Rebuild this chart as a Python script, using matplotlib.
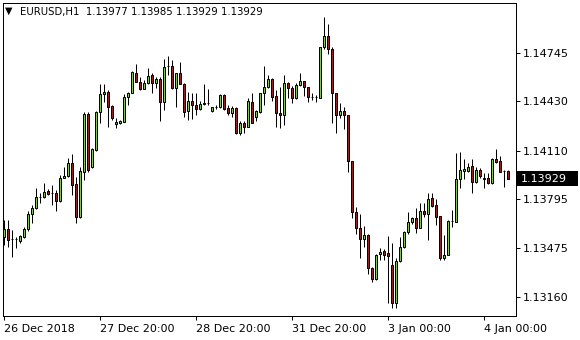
import matplotlib
matplotlib.use("Agg")
import matplotlib.pyplot as plt
import matplotlib.transforms as mtransforms
from matplotlib.patches import Rectangle
import numpy as np

symbol = "EURUSD,H1"
last_ohlc = [1.13977, 1.13985, 1.13929, 1.13929]

opens = [1.13549, 1.13601, 1.13536, 1.13536, 1.13523, 1.13549, 1.13601, 1.13698, 1.13737, 1.13809,
         1.13809, 1.13848, 1.13835, 1.13835, 1.13783, 1.13932, 1.13945, 1.14030, 1.13893, 1.13679,
         1.13971, 1.14348, 1.14004, 1.14114, 1.14361, 1.14478, 1.14491, 1.14400, 1.14283, 1.14290,
         1.14296, 1.14459, 1.14485, 1.14615, 1.14556, 1.14511, 1.14550, 1.14602, 1.14550, 1.14576,
         1.14426, 1.14660, 1.14660, 1.14517, 1.14615, 1.14543, 1.14368, 1.14433, 1.14407, 1.14381,
         1.14413, 1.14420, 1.14368, 1.14394, 1.14394, 1.14472, 1.14387, 1.14355, 1.14387, 1.14225,
         1.14290, 1.14264, 1.14426, 1.14329, 1.14361, 1.14485, 1.14524, 1.14576, 1.14465, 1.14355,
         1.14342, 1.14550, 1.14517, 1.14452, 1.14537, 1.14563, 1.14524, 1.14459, 1.14459, 1.14452,
         1.14784, 1.14855, 1.14771, 1.14485, 1.14342, 1.14368, 1.14342, 1.14043, 1.13711, 1.13607,
         1.13536, 1.13562, 1.13347, 1.13276, 1.13438, 1.13458, 1.13445, 1.13367, 1.13120, 1.13393,
         1.13484, 1.13581, 1.13646, 1.13672, 1.13607, 1.13718, 1.13698, 1.13802, 1.13757, 1.13685,
         1.13412, 1.13432, 1.13653, 1.13646, 1.13926, 1.13978, 1.13978, 1.14010, 1.13906, 1.13984,
         1.13926, 1.13932, 1.13900, 1.14056, 1.14043, 1.13978, 1.13977]

highs = [1.13659, 1.13659, 1.13594, 1.13549, 1.13562, 1.13614, 1.13718, 1.13757, 1.13867, 1.13835,
         1.13900, 1.13861, 1.13887, 1.13854, 1.13952, 1.14004, 1.14062, 1.14088, 1.13939, 1.14004,
         1.14361, 1.14361, 1.14127, 1.14368, 1.14543, 1.14543, 1.14504, 1.14407, 1.14322, 1.14309,
         1.14478, 1.14491, 1.14628, 1.14673, 1.14589, 1.14569, 1.14647, 1.14615, 1.14589, 1.14589,
         1.14706, 1.14725, 1.14699, 1.14615, 1.14686, 1.14550, 1.14491, 1.14485, 1.14485, 1.14433,
         1.14543, 1.14511, 1.14394, 1.14407, 1.14478, 1.14478, 1.14407, 1.14400, 1.14394, 1.14303,
         1.14303, 1.14452, 1.14485, 1.14374, 1.14485, 1.14660, 1.14602, 1.14582, 1.14504, 1.14524,
         1.14602, 1.14556, 1.14530, 1.14550, 1.14615, 1.14563, 1.14524, 1.14485, 1.14472, 1.14784,
         1.14979, 1.14933, 1.14784, 1.14485, 1.14420, 1.14394, 1.14342, 1.14043, 1.13744, 1.13698,
         1.13620, 1.13568, 1.13354, 1.13438, 1.13477, 1.13471, 1.13555, 1.13510, 1.13412, 1.13549,
         1.13588, 1.13711, 1.13679, 1.13737, 1.13770, 1.13770, 1.13835, 1.13835, 1.13796, 1.13685,
         1.13562, 1.13659, 1.13724, 1.14095, 1.14101, 1.14056, 1.14030, 1.14056, 1.14004, 1.13997,
         1.13965, 1.13965, 1.14062, 1.14121, 1.14075, 1.13984, 1.13985]

lows = [1.13497, 1.13484, 1.13419, 1.13477, 1.13510, 1.13542, 1.13588, 1.13640, 1.13731, 1.13770,
        1.13802, 1.13822, 1.13757, 1.13718, 1.13776, 1.13932, 1.13939, 1.13822, 1.13640, 1.13672,
        1.13919, 1.13971, 1.13997, 1.14108, 1.14290, 1.14426, 1.14264, 1.14309, 1.14257, 1.14283,
        1.14296, 1.14407, 1.14485, 1.14556, 1.14504, 1.14511, 1.14543, 1.14485, 1.14517, 1.14303,
        1.14374, 1.14602, 1.14511, 1.14394, 1.14543, 1.14329, 1.14309, 1.14316, 1.14342, 1.14374,
        1.14407, 1.14407, 1.14361, 1.14381, 1.14387, 1.14374, 1.14342, 1.14329, 1.14218, 1.14212,
        1.14225, 1.14264, 1.14290, 1.14303, 1.14355, 1.14407, 1.14517, 1.14433, 1.14264, 1.14257,
        1.14277, 1.14452, 1.14420, 1.14446, 1.14530, 1.14465, 1.14426, 1.14439, 1.14426, 1.14452,
        1.14771, 1.14738, 1.14290, 1.14225, 1.14322, 1.14251, 1.13971, 1.13672, 1.13568, 1.13412,
        1.13484, 1.13308, 1.13256, 1.13269, 1.13399, 1.13399, 1.13120, 1.13087, 1.13087, 1.13386,
        1.13477, 1.13568, 1.13633, 1.13575, 1.13607, 1.13679, 1.13529, 1.13744, 1.13627, 1.13399,
        1.13399, 1.13432, 1.13614, 1.13646, 1.13867, 1.13926, 1.13971, 1.13835, 1.13900, 1.13932,
        1.13867, 1.13893, 1.13893, 1.14030, 1.13971, 1.13874, 1.13929]

closes = [1.13601, 1.13529, 1.13536, 1.13536, 1.13555, 1.13601, 1.13698, 1.13737, 1.13809, 1.13809,
          1.13841, 1.13828, 1.13835, 1.13783, 1.13932, 1.13945, 1.14030, 1.13887, 1.13679, 1.13978,
          1.14348, 1.13984, 1.14121, 1.14361, 1.14478, 1.14491, 1.14394, 1.14322, 1.14296, 1.14303,
          1.14459, 1.14485, 1.14621, 1.14556, 1.14511, 1.14550, 1.14595, 1.14550, 1.14576, 1.14426,
          1.14654, 1.14660, 1.14517, 1.14615, 1.14543, 1.14361, 1.14433, 1.14407, 1.14381, 1.14413,
          1.14420, 1.14420, 1.14394, 1.14394, 1.14472, 1.14381, 1.14355, 1.14387, 1.14225, 1.14290,
          1.14264, 1.14433, 1.14290, 1.14368, 1.14485, 1.14524, 1.14576, 1.14459, 1.14355, 1.14342,
          1.14550, 1.14517, 1.14452, 1.14537, 1.14563, 1.14524, 1.14459, 1.14459, 1.14459, 1.14784,
          1.14855, 1.14771, 1.14485, 1.14342, 1.14368, 1.14342, 1.14043, 1.13711, 1.13607, 1.13536,
          1.13562, 1.13347, 1.13276, 1.13432, 1.13451, 1.13432, 1.13425, 1.13120, 1.13393, 1.13484,
          1.13581, 1.13646, 1.13672, 1.13607, 1.13718, 1.13698, 1.13796, 1.13750, 1.13679, 1.13412,
          1.13432, 1.13653, 1.13653, 1.13926, 1.13984, 1.13991, 1.14004, 1.13906, 1.13984, 1.13945,
          1.13932, 1.13900, 1.14056, 1.14036, 1.13971, 1.13978, 1.13929]

price_ticks = [1.13160, 1.13475, 1.13795, 1.14110, 1.14430, 1.14745]
time_tick_bars = [0, 24, 48, 72, 96, 120]
time_tick_labels = ["26 Dec 2018", "27 Dec 20:00", "28 Dec 20:00", "31 Dec 20:00", "3 Jan 00:00", "4 Jan 00:00"]

BULL = "#66E600"
BEAR = "#E00000"

W, H = 580, 340
fig = plt.figure(figsize=(W / 100, H / 100), dpi=100)
fig.patch.set_facecolor("white")
ax = fig.add_axes([3 / W, 1 - 316 / H, (516 - 3) / W, (316 - 3) / H])

o = np.array(opens); h = np.array(highs); l = np.array(lows); c = np.array(closes)
x = np.arange(len(o))
px = 0.72  # one pixel in points

ax.vlines(x, l, h, color="black", linewidth=px, zorder=2)
bottoms = np.minimum(o, c)
heights = np.abs(c - o)
colors = np.where(c > o, BULL, np.where(c < o, BEAR, "black"))
ax.bar(x, heights, bottom=bottoms, width=0.5, color=colors, edgecolor="black",
       linewidth=px, zorder=3)

ax.set_xlim(-0.25, 128)
ax.set_ylim(1.130355, 1.15070)

ax.yaxis.tick_right()
ax.set_yticks(price_ticks)
ax.set_yticklabels([f"{v:.5f}" for v in price_ticks])
ax.set_xticks(time_tick_bars)
ax.set_xticklabels(time_tick_labels, ha="left")
ax.tick_params(axis="both", direction="out", length=3, width=px, color="black",
               labelsize=8, labelcolor="black", pad=2)
ax.tick_params(axis="x", pad=3)
for sp in ax.spines.values():
    sp.set_linewidth(px)
    sp.set_color("black")

# last price marker: black box on the price scale
trans = mtransforms.blended_transform_factory(ax.transAxes, ax.transData)
box_h = 15 * (ax.get_ylim()[1] - ax.get_ylim()[0]) / (316 - 3)
ax.add_patch(Rectangle(((517 - 3) / 513, last_ohlc[3] - box_h / 2), 61 / 513, box_h,
                       transform=trans, facecolor="black", edgecolor="none",
                       clip_on=False, zorder=5))
ax.text((521 - 3) / 513, last_ohlc[3], f"{last_ohlc[3]:.5f}", transform=trans, ha="left",
        va="center", fontsize=8, color="white", zorder=6, clip_on=False)

fig.text(5 / W, 1 - 11 / H, "\u25BC", fontsize=7, va="center", ha="left", color="black")
fig.text(20 / W, 1 - 12 / H, f"{symbol}  " + " ".join(f"{v:.5f}" for v in last_ohlc),
         fontsize=7.3, va="center", ha="left", color="black")

fig.savefig("out.png", dpi=100, facecolor="white")
